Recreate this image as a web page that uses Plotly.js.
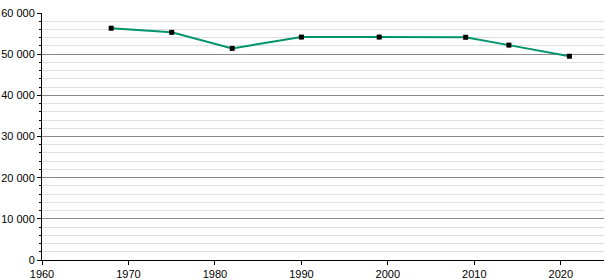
<!DOCTYPE html>
<html>
<head>
<meta charset="utf-8">
<script src="https://cdn.plot.ly/plotly-3.0.1.min.js"></script>
<style>html,body{margin:0;padding:0;background:#fff;}#chart{width:615px;height:280px;}</style>
</head>
<body>
<div id="chart"></div>
<script>
const years = [1968, 1975, 1982, 1990, 1999, 2009, 2014, 2021];
const population = [56300, 55300, 51400, 54150, 54150, 54100, 52200, 49500];
const yTickVals = [0, 10000, 20000, 30000, 40000, 50000, 60000];
const yTickText = ["0", "10 000", "20 000", "30 000", "40 000", "50 000", "60 000"];
const xTickVals = [1960, 1970, 1980, 1990, 2000, 2010, 2020];

const trace = {
  x: years, y: population, type: 'scatter', mode: 'lines+markers',
  line: {color: '#00946c', width: 2},
  marker: {color: '#000', symbol: 'square', size: 5},
  hoverinfo: 'none'
};
const layout = {
  width: 615, height: 280,
  margin: {l: 42, r: 11, t: 13, b: 20},
  paper_bgcolor: '#fff', plot_bgcolor: '#fff',
  font: {family: 'Liberation Sans, Arial, sans-serif', size: 11, color: '#000'},
  showlegend: false,
  xaxis: {
    range: [1960, 2025], tickvals: xTickVals, showgrid: false, zeroline: false,
    showline: true, linecolor: '#000', linewidth: 1,
    ticks: 'outside', ticklen: 4, tickcolor: '#000'
  },
  yaxis: {
    range: [0, 60000], tickvals: yTickVals, ticktext: yTickText,
    showgrid: true, gridcolor: '#8a8a8a', gridwidth: 1, zeroline: false,
    showline: true, linecolor: '#000', linewidth: 1,
    ticks: 'outside', ticklen: 4, tickcolor: '#000',
    minor: {dtick: 2000, showgrid: true, gridcolor: '#e0e0e0', gridwidth: 1, ticks: 'outside', ticklen: 2, tickcolor: '#000'}
  }
};
Plotly.newPlot('chart', [trace], layout, {displayModeBar: false, staticPlot: true});
</script>
</body>
</html>
